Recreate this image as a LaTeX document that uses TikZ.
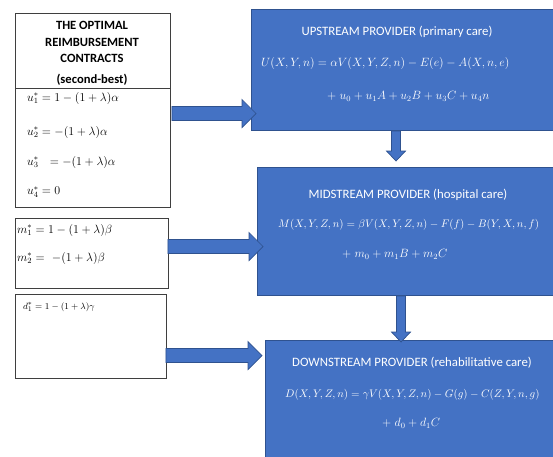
\documentclass[tikz,border=0pt]{standalone}
\usepackage{fontspec}
\setsansfont{Carlito}
\usepackage{tikz}
\usetikzlibrary{calc,positioning}
\definecolor{provblue}{HTML}{4472C4}
\definecolor{provedge}{HTML}{2F528F}
\definecolor{boxedge}{HTML}{3F3F3F}

\begin{document}
\begin{tikzpicture}[
  x=1pt,y=1pt,
  wbox/.style={draw=boxedge,line width=0.9pt,fill=white,inner sep=0pt,anchor=north west},
  pbox/.style={wbox,draw=provedge,fill=provblue},
  ttl/.style={font=\sffamily\bfseries\fontsize{12.6}{16.5}\selectfont,align=center,inner sep=0pt},
  ptl/.style={font=\sffamily\fontsize{12.8}{15}\selectfont,text=white,inner sep=0pt},
  peq/.style={font=\fontsize{12}{14}\selectfont,text=white,inner sep=0pt,anchor=west},
  ceq/.style={font=\fontsize{12}{14}\selectfont,inner sep=0pt,anchor=west},
  harr/.style={draw=provedge,fill=provblue,line width=0.7pt,
    to path={let \p1=(\tikztostart),\p2=(\tikztotarget) in
      (\x1,\y1+7) -- (\x2-14,\y1+7) -- (\x2-14,\y1+14) -- (\x2,\y1)
      -- (\x2-14,\y1-14) -- (\x2-14,\y1-7) -- (\x1,\y1-7) -- cycle}},
  varr/.style={draw=provedge,fill=provblue,line width=0.7pt,
    to path={let \p1=(\tikztostart),\p2=(\tikztotarget) in
      (\x1-4.5,\y1) -- (\x1-4.5,\y2+10) -- (\x1-9.5,\y2+10) -- (\x1,\y2)
      -- (\x1+9.5,\y2+10) -- (\x1+4.5,\y2+10) -- (\x1+4.5,\y1) -- cycle}}
]
\useasboundingbox (0,0) rectangle (553,-456);
\clip (0,0) rectangle (553,-456);
\fill[white] (0,0) rectangle (553,-456);

\node[wbox,minimum width=155,minimum height=75] (title) at (15,-13) {};
\node[wbox,minimum width=155,minimum height=119] (ucon) at (15,-88) {};
\node[wbox,minimum width=153,minimum height=70] (mcon) at (15,-218) {};
\node[wbox,minimum width=151,minimum height=84] (dcon) at (15,-294) {};
\node[pbox,minimum width=320,minimum height=121] (up) at (251,-9) {};
\node[pbox,minimum width=310,minimum height=128] (mid) at (257,-167) {};
\node[pbox,minimum width=300,minimum height=130] (down) at (265,-340) {};

\node[ttl] (ttext) at (92,-42) {THE OPTIMAL\\REIMBURSEMENT\\CONTRACTS};
\node[ttl] (tsub) at (92,-80) {(second-best)};

\node[ceq] (u1) at (27,-98) {$u_1^* = 1-(1+\lambda)\alpha$};
\node[ceq] (u2) at (27,-132) {$u_2^* = -(1+\lambda)\alpha$};
\node[ceq] (u3) at (27,-162) {$u_3^*\ \ = -(1+\lambda)\alpha$};
\node[ceq] (u4) at (27,-192) {$u_4^* = 0$};
\node[ceq] (m1) at (17,-230) {$m_1^* = 1-(1+\lambda)\beta$};
\node[ceq] (m2) at (17,-258) {$m_2^* = \ -(1+\lambda)\beta$};
\node[ceq,font=\fontsize{9.5}{11}\selectfont] (d1) at (23,-307) {$d_1^* = 1-(1+\lambda)\gamma$};

\node[ptl] (uptitle) at (397,-32) {UPSTREAM PROVIDER (primary care)};
\node[peq] (upeq1) at (261,-63) {$U(X,Y,n) = \alpha V(X,Y,Z,n) - E(e) - A(X,n,e)$};
\node[peq] (upeq2) at (327,-96) {$+\;u_0 + u_1A + u_2B + u_3C + u_4n$};
\node[ptl] (midtitle) at (408,-195) {MIDSTREAM PROVIDER (hospital care)};
\node[peq,font=\fontsize{10.8}{13}\selectfont] (mideq1) at (278,-225) {$M(X,Y,Z,n) = \beta V(X,Y,Z,n) - F(f) - B(Y,X,n,f)$};
\node[peq] (mideq2) at (342,-254) {$+\;m_0 + m_1B + m_2C$};
\node[ptl] (downtitle) at (412,-363) {DOWNSTREAM PROVIDER (rehabilitative care)};
\node[peq,font=\fontsize{10.8}{13}\selectfont] (downeq1) at (285,-395) {$D(X,Y,Z,n) = \gamma V(X,Y,Z,n) - G(g) - C(Z,Y,n,g)$};
\node[peq] (downeq2) at (382,-423) {$+\;d_0 + d_1C$};

\coordinate (a1s) at ($(ucon.north east)+(1,-25.5)$);
\coordinate (a1e) at ($(up.south west)+(5,0)$);
\coordinate (a3s) at ($(mcon.north east)+(-1,-28.5)$);
\coordinate (a3e) at ($(mid.south west)+(6,0)$);
\coordinate (a5s) at ($(dcon.north east)+(-1,-61.5)$);
\coordinate (a5e) at ($(down.south west)+(-3,0)$);
\coordinate (a2s) at ($(up.south west)+(145,0)$);
\coordinate (a2e) at ($(mid.north west)+(0,6)$);
\coordinate (a4s) at ($(mid.south west)+(144,0)$);
\coordinate (a4e) at ($(down.north west)+(0,-2)$);

\draw[harr] (a1s) to (a1e);
\draw[harr] (a3s) to (a3e);
\draw[harr] (a5s) to (a5e);
\draw[varr] (a2s) to (a2e);
\draw[varr] (a4s) to (a4e);
\end{tikzpicture}
\end{document}
